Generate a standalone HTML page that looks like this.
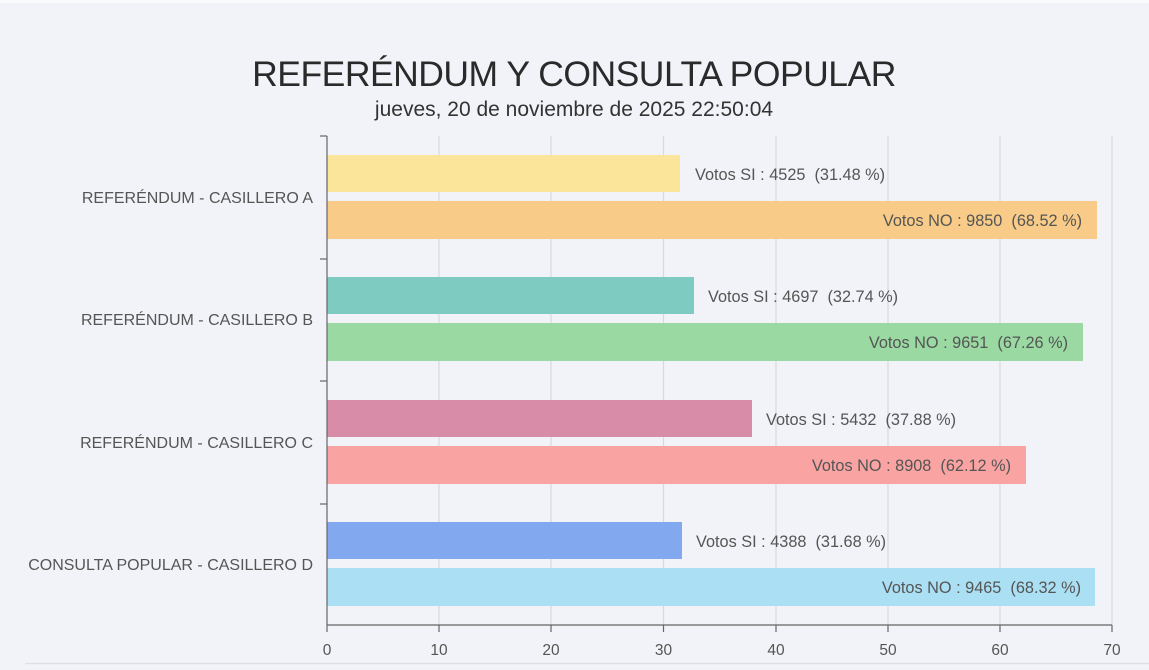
<!DOCTYPE html>
<html><head><meta charset="utf-8"><style>
html,body{margin:0;padding:0;background:#f2f3f8;}
svg{display:block;font-family:"Liberation Sans",Arial,sans-serif;}
text{white-space:pre;}
</style></head><body>
<svg width="1149" height="670" viewBox="0 0 1149 670" xmlns="http://www.w3.org/2000/svg" xml:space="preserve">
<rect x="0" y="0" width="1149" height="670" fill="#f2f3f8"/>
<rect x="0" y="0" width="1149" height="3" fill="#fafafc"/>
<text x="574" y="86" text-anchor="middle" font-size="35.5" fill="#2a2a2a" letter-spacing="-0.5">REFERÉNDUM Y CONSULTA POPULAR</text>
<text x="574" y="116" text-anchor="middle" font-size="21" fill="#333">jueves, 20 de noviembre de 2025 22:50:04</text>
<g stroke="#d8d9dd" stroke-width="1.2">
<line x1="439" y1="136" x2="439" y2="625"/><line x1="551" y1="136" x2="551" y2="625"/>
<line x1="663.5" y1="136" x2="663.5" y2="625"/><line x1="776" y1="136" x2="776" y2="625"/>
<line x1="888" y1="136" x2="888" y2="625"/><line x1="1000" y1="136" x2="1000" y2="625"/>
<line x1="1112" y1="136" x2="1112" y2="625"/>
</g>
<rect x="327" y="155" width="353" height="37" fill="#fae59b"/>
<rect x="327" y="201" width="770" height="38" fill="#f8cb88"/>
<rect x="327" y="277" width="367" height="37" fill="#7ecbc2"/>
<rect x="327" y="323" width="756" height="38" fill="#9ad9a2"/>
<rect x="327" y="400" width="425" height="37" fill="#d88ca7"/>
<rect x="327" y="446" width="699" height="38" fill="#f9a3a2"/>
<rect x="327" y="522" width="355" height="37" fill="#82a9f0"/>
<rect x="327" y="568" width="768" height="38" fill="#abdff3"/>
<g font-size="16.3" fill="#555">
<text x="695" y="180">Votos SI : 4525  (31.48 %)</text>
<text x="1082" y="226" text-anchor="end">Votos NO : 9850  (68.52 %)</text>
<text x="708" y="302">Votos SI : 4697  (32.74 %)</text>
<text x="1068" y="348" text-anchor="end">Votos NO : 9651  (67.26 %)</text>
<text x="766" y="425">Votos SI : 5432  (37.88 %)</text>
<text x="1011" y="471" text-anchor="end">Votos NO : 8908  (62.12 %)</text>
<text x="696" y="547">Votos SI : 4388  (31.68 %)</text>
<text x="1081" y="593" text-anchor="end">Votos NO : 9465  (68.32 %)</text>
</g>
<g font-size="16" fill="#555" text-anchor="end">
<text x="313" y="203">REFERÉNDUM - CASILLERO A</text>
<text x="313" y="325">REFERÉNDUM - CASILLERO B</text>
<text x="313" y="448">REFERÉNDUM - CASILLERO C</text>
<text x="313" y="570">CONSULTA POPULAR - CASILLERO D</text>
</g>
<g stroke="#666" stroke-width="1.2">
<line x1="327" y1="136" x2="327" y2="625"/>
<line x1="327" y1="625" x2="1112" y2="625"/>
<line x1="320" y1="136" x2="327" y2="136"/><line x1="320" y1="259" x2="327" y2="259"/>
<line x1="320" y1="381" x2="327" y2="381"/><line x1="320" y1="504" x2="327" y2="504"/>
<line x1="327" y1="625" x2="327" y2="632"/><line x1="439" y1="625" x2="439" y2="632"/>
<line x1="551" y1="625" x2="551" y2="632"/><line x1="663.5" y1="625" x2="663.5" y2="632"/>
<line x1="776" y1="625" x2="776" y2="632"/><line x1="888" y1="625" x2="888" y2="632"/>
<line x1="1000" y1="625" x2="1000" y2="632"/><line x1="1112" y1="625" x2="1112" y2="632"/>
</g>
<g font-size="15.5" fill="#555" text-anchor="middle">
<text x="327" y="655">0</text><text x="439" y="655">10</text><text x="551" y="655">20</text>
<text x="663.5" y="655">30</text><text x="776" y="655">40</text><text x="888" y="655">50</text>
<text x="1000" y="655">60</text><text x="1112" y="655">70</text>
</g>
<line x1="25" y1="663.5" x2="1149" y2="663.5" stroke="#dfe0e5" stroke-width="1.5"/>
</svg>
</body></html>
